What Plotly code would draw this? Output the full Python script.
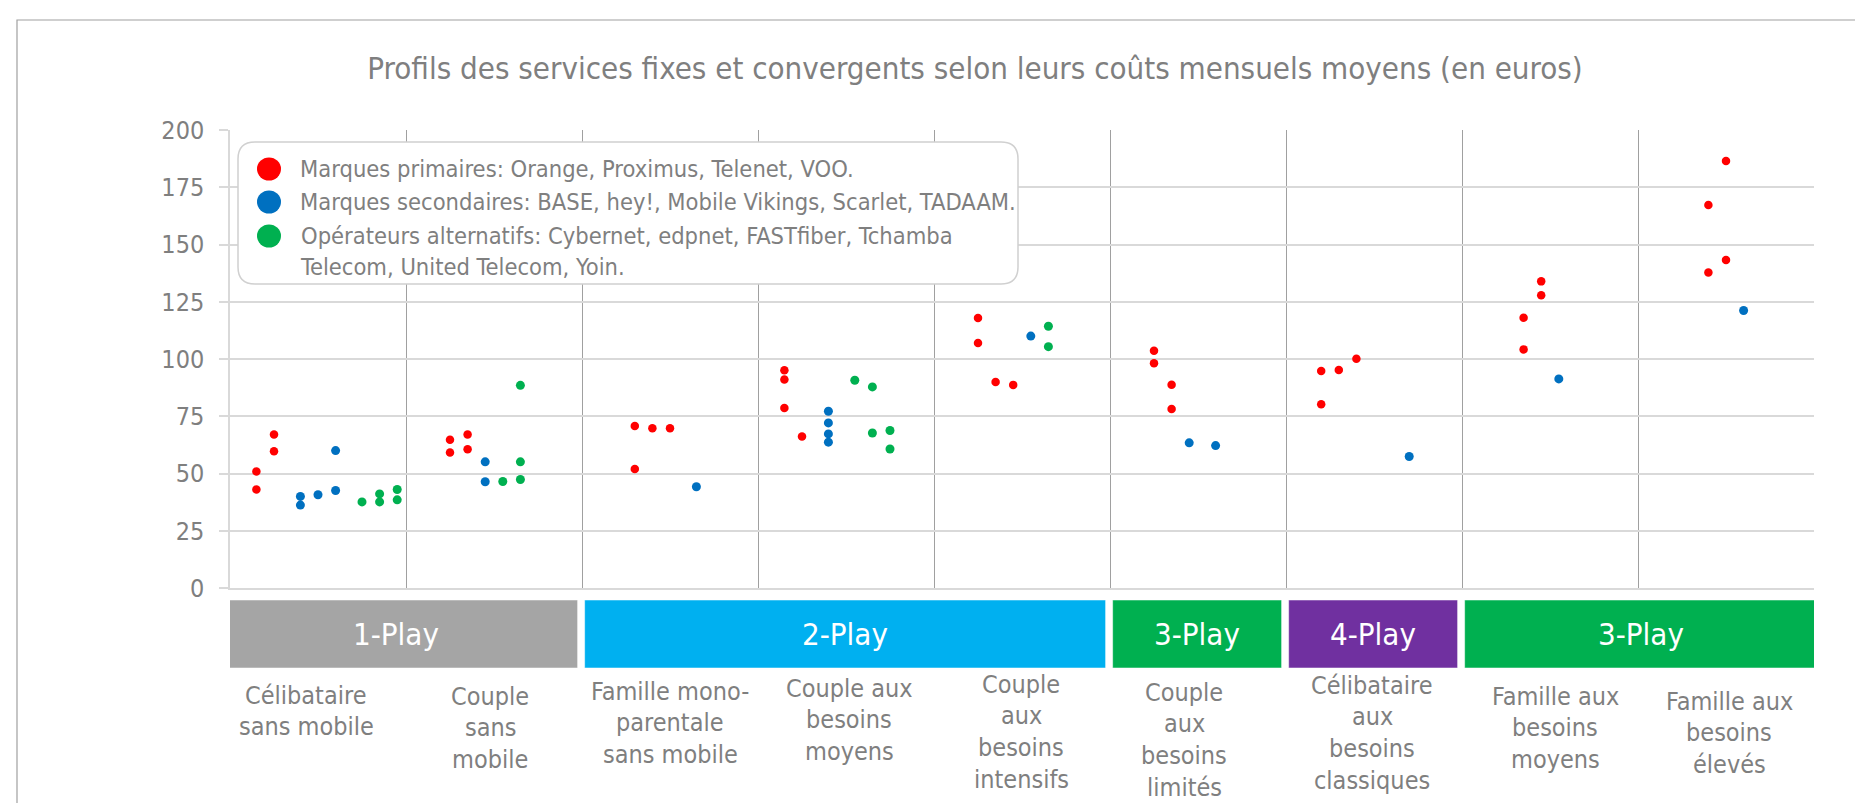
import plotly.graph_objects as go

# profils (categories on the x axis)
profiles = [
    "Célibataire<br>sans mobile",
    "Couple<br>sans<br>mobile",
    "Famille mono-<br>parentale<br>sans mobile",
    "Couple aux<br>besoins<br>moyens",
    "Couple<br>aux<br>besoins<br>intensifs",
    "Couple<br>aux<br>besoins<br>limités",
    "Célibataire<br>aux<br>besoins<br>classiques",
    "Famille aux<br>besoins<br>moyens",
    "Famille aux<br>besoins<br>élevés",
]

# play groups under the axis
play_groups = ["1-Play", "2-Play", "3-Play", "4-Play", "3-Play"]
play_sizes = [2, 3, 1, 1, 2]
play_colors = ["#A5A5A5", "#00B0F0", "#00B050", "#7030A0", "#00B050"]

# series names
series_names = [
    "Marques primaires: Orange, Proximus, Telenet, VOO.",
    "Marques secondaires: BASE, hey!, Mobile Vikings, Scarlet, TADAAM.",
    "Opérateurs alternatifs: Cybernet, edpnet, FASTfiber, Tchamba<br>Telecom, United Telecom, Yoin.",
]
series_colors = ["#FF0000", "#0070C0", "#00B050"]

# marques primaires: profile index, position inside profile, monthly cost
primary_cat = [0, 0, 0, 0, 1, 1, 1, 1, 2, 2, 2, 2, 3, 3, 3, 3, 4, 4, 4, 4,
               5, 5, 5, 5, 6, 6, 6, 6, 7, 7, 7, 7, 8, 8, 8, 8]
primary_pos = [0.15, 0.15, 0.25, 0.25, 0.25, 0.25, 0.35, 0.35, 0.30, 0.30, 0.40, 0.50,
               0.15, 0.15, 0.15, 0.25, 0.25, 0.25, 0.35, 0.45, 0.25, 0.25, 0.35, 0.35,
               0.20, 0.20, 0.30, 0.40, 0.35, 0.35, 0.45, 0.45, 0.40, 0.40, 0.50, 0.50]
primary_cost = [50.9, 43.0, 67.0, 59.7, 64.7, 59.2, 67.0, 60.6, 70.7, 52.0, 69.8, 69.8,
                95.1, 91.0, 78.6, 66.2, 117.9, 107.0, 90.0, 88.7, 103.6, 98.1, 88.8, 78.2,
                94.8, 80.2, 95.2, 100.1, 118.0, 104.2, 133.9, 127.8, 167.2, 137.8, 186.5, 143.2]

# marques secondaires
secondary_cat = [0, 0, 0, 0, 0, 1, 1, 2, 3, 3, 3, 3, 4, 5, 5, 6, 7, 8]
secondary_pos = [0.40, 0.40, 0.50, 0.60, 0.60, 0.45, 0.45, 0.65, 0.40, 0.40, 0.40, 0.40,
                 0.55, 0.45, 0.60, 0.70, 0.55, 0.60]
secondary_cost = [40.0, 36.2, 40.7, 60.0, 42.6, 55.1, 46.4, 44.2, 77.2, 72.1, 67.3, 63.7,
                  110.0, 63.4, 62.2, 57.4, 91.3, 121.2]

# opérateurs alternatifs
alt_cat = [0, 0, 0, 0, 0, 1, 1, 1, 1, 3, 3, 3, 3, 3, 4, 4]
alt_pos = [0.75, 0.85, 0.85, 0.95, 0.95, 0.55, 0.65, 0.65, 0.65, 0.55, 0.65, 0.65,
           0.75, 0.75, 0.65, 0.65]
alt_cost = [37.6, 41.1, 37.6, 43.0, 38.5, 46.5, 88.5, 55.1, 47.4, 90.7, 87.8, 67.7,
            68.8, 60.7, 114.3, 105.4]

y_ticks = [0, 25, 50, 75, 100, 125, 150, 175, 200]

# page geometry (pixels)
W, H = 1863, 803
L, R, T, B = 222, 57, 122, 223
PW, PH = W - L - R, H - T - B
FONT = "Tahoma, 'DejaVu Sans Condensed', 'Open Sans', sans-serif"
GREY_TXT = "#7F7F7F"


def px(x):
    return (x - L) / PW


def py(y):
    return (H - B - y) / PH


fig = go.Figure()

series = [
    (primary_cat, primary_pos, primary_cost),
    (secondary_cat, secondary_pos, secondary_cost),
    (alt_cat, alt_pos, alt_cost),
]
for (cats, pos, cost), name, col, sz in zip(series, series_names, series_colors, [8.5, 9, 9]):
    fig.add_trace(go.Scatter(
        x=[c + p for c, p in zip(cats, pos)], y=cost, mode="markers",
        name=name.replace("<br>", " "), showlegend=False,
        marker=dict(color=col, size=sz, line=dict(width=0)),
    ))

# legend box (rounded) drawn by hand
x0, x1, y0, y1 = px(230), px(1010), py(276), py(134)
rx, ry = 17 / PW, 17 / PH
path = (f"M {x0+rx},{y1} L {x1-rx},{y1} Q {x1},{y1} {x1},{y1-ry} "
        f"L {x1},{y0+ry} Q {x1},{y0} {x1-rx},{y0} L {x0+rx},{y0} "
        f"Q {x0},{y0} {x0},{y0+ry} L {x0},{y1-ry} Q {x0},{y1} {x0+rx},{y1} Z")
fig.add_shape(type="path", path=path, xref="paper", yref="paper",
              fillcolor="white", line=dict(color="#D0D0D0", width=1.5), layer="above")

legend_rows = [161, 194, 228]
for name, col, row in zip(series_names, series_colors, legend_rows):
    fig.add_shape(type="circle", xref="paper", yref="paper",
                  xsizemode="pixel", ysizemode="pixel",
                  xanchor=px(261), yanchor=py(row),
                  x0=-12, x1=12, y0=-11.5, y1=11.5,
                  fillcolor=col, line=dict(width=0), layer="above")
    fig.add_annotation(x=px(290), y=py(row - 16.5), xref="paper", yref="paper",
                       text=name, showarrow=False, xanchor="left", yanchor="top",
                       align="left", font=dict(family=FONT, size=23.5, color=GREY_TXT))

# play group bands under the axis
start = 0
for i, (grp, n, col) in enumerate(zip(play_groups, play_sizes, play_colors)):
    a = start + 0.015 if i > 0 else -0.09
    b = start + n - 0.025 if i < len(play_groups) - 1 else start + n + 0.02
    fig.add_shape(type="rect", xref="x", yref="paper", x0=a, x1=b,
                  y0=py(660), y1=py(592), fillcolor=col,
                  line=dict(color="rgba(255,255,255,0.5)", width=1))
    fig.add_annotation(x=(a + b) / 2, y=py(626), xref="x", yref="paper",
                       text=grp, showarrow=False, yanchor="middle",
                       font=dict(family=FONT, size=31, color="white"))
    start += n

# profile labels: one annotation per line so the line pitch matches (~32 px)
label_line1_px = [687, 688, 683, 680, 676, 684, 677, 688, 693]
label_dx_px = [-12, -4, 0, 3, -1, -14, -2, 5, 3]
LINE_PITCH = 31.8
for i, (lab, ly, dx) in enumerate(zip(profiles, label_line1_px, label_dx_px)):
    for k, line in enumerate(lab.split("<br>")):
        fig.add_annotation(x=i + 0.5, y=py(ly + k * LINE_PITCH), xref="x", yref="paper",
                           xshift=dx, text=line, showarrow=False, yanchor="middle",
                           borderpad=0,
                           font=dict(family=FONT, size=25, color=GREY_TXT))

# outer frame (top and left edges only visible)
fig.add_shape(type="rect", xref="paper", yref="paper",
              x0=px(9), x1=px(1900), y0=py(850), y1=py(12),
              line=dict(color="#A0A0A0", width=1.2), fillcolor="rgba(0,0,0,0)")

fig.update_layout(
    width=W, height=H,
    margin=dict(l=L, r=R, t=T, b=B),
    paper_bgcolor="white", plot_bgcolor="white",
    font=dict(family=FONT, color=GREY_TXT),
    title=dict(text="Profils des services fixes et convergents selon leurs coûts mensuels moyens (en euros)",
               x=967 / W, xref="container", xanchor="center",
               y=1 - 60 / H, yref="container", yanchor="middle",
               font=dict(family=FONT, size=31, color=GREY_TXT)),
    xaxis=dict(range=[0, 9], tickvals=list(range(10)), showticklabels=False,
               showgrid=True, gridcolor="#A0A0A0", gridwidth=1,
               showline=True, linecolor="#D9D9D9", linewidth=1.5,
               zeroline=False, ticks=""),
    yaxis=dict(range=[0, 200], tickvals=y_ticks, showgrid=True,
               gridcolor="#D9D9D9", gridwidth=1.5,
               showline=True, linecolor="#D9D9D9", linewidth=1.5,
               ticks="outside", ticklen=9, tickcolor="#D9D9D9", tickwidth=1.5,
               ticklabelstandoff=10,
               zeroline=False, tickfont=dict(family=FONT, size=25, color=GREY_TXT)),
)

fig.write_html("out.html")
